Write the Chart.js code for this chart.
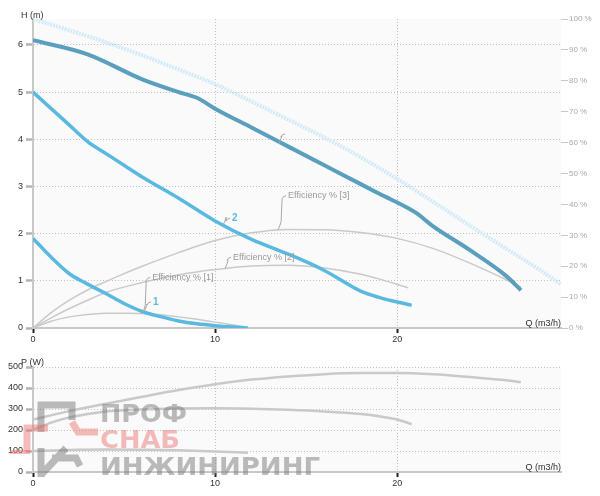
<!DOCTYPE html>
<html>
<head>
<meta charset="utf-8">
<script src="https://cdn.jsdelivr.net/npm/chart.js@4.4.0/dist/chart.umd.min.js"></script>
<style>
  body { margin: 0; background: #fff; width: 600px; height: 496px; overflow: hidden; position: relative; }
  #headBox { position: absolute; left: 0; top: 0; width: 600px; height: 350px; }
  #powerBox { position: absolute; left: 0; top: 350px; width: 600px; height: 146px; }
</style>
</head>
<body>
<div id="headBox"><canvas id="headChart" width="600" height="350"></canvas></div>
<div id="powerBox"><canvas id="powerChart" width="600" height="146"></canvas></div>
<script>
// ---- data ----
// pump curves H (m) vs Q (m3/h)
const qCurve1 = [0, 1, 2, 3, 4, 5, 6, 7, 8, 9, 10, 11, 11.8];
const hCurve1 = [1.9, 1.5, 1.15, 0.93, 0.73, 0.52, 0.35, 0.24, 0.15, 0.09, 0.05, 0.02, 0];
const qCurve2 = [0, 1, 2, 3, 4, 5, 6, 8, 10, 12, 14, 16, 18, 19, 20.8];
const hCurve2 = [5.0, 4.65, 4.3, 3.95, 3.7, 3.45, 3.2, 2.75, 2.27, 1.88, 1.57, 1.22, 0.78, 0.65, 0.48];
const qCurve3 = [0, 3, 6, 8, 9, 10, 12, 14, 16, 18, 19, 21, 22, 24, 26, 26.8];
const hCurve3 = [6.1, 5.8, 5.27, 5.0, 4.88, 4.65, 4.25, 3.85, 3.45, 3.05, 2.85, 2.45, 2.15, 1.65, 1.1, 0.8];
const qCurveMax = [0, 2, 4, 6, 8, 10, 12, 14, 16, 18, 20, 22, 24, 26, 28, 29];
const hCurveMax = [6.55, 6.31, 6.06, 5.78, 5.48, 5.17, 4.8, 4.42, 4.04, 3.62, 3.16, 2.67, 2.17, 1.68, 1.19, 0.92];

// efficiency % (right axis)
const qEff1 = [0, 1, 2, 3, 4, 5, 6, 7, 8, 9, 10, 11, 11.6];
const eff1 = [0, 2.2, 3.6, 4.4, 4.75, 4.8, 4.7, 4.3, 3.6, 2.8, 1.9, 1.0, 0.4];
const qEff2 = [0, 1, 2, 3, 4, 6, 8, 10, 12, 14, 16, 18, 19, 20.6];
const eff2 = [0, 3.3, 6.3, 9, 11.5, 14.7, 17.2, 18.9, 20.1, 20.3, 19.4, 17.4, 15.9, 13.0];
const qEff3 = [0, 1, 2, 3, 4, 5, 6, 8, 10, 12, 14, 16, 18, 20, 22, 24, 26, 26.8];
const eff3 = [0, 5, 9, 12.3, 15, 17.6, 20, 24.4, 28.3, 30.8, 31.9, 31.8, 30.9, 29.0, 25.7, 21.0, 15.6, 13.2];

// power P (W)
const qPow1 = [0, 2, 4, 6, 8, 10, 11.8];
const pow1 = [100, 105, 107, 106, 103, 98, 92];
const qPow2 = [0, 1, 2, 3, 4, 6, 8, 10, 12, 14, 16, 18, 19, 20, 20.8];
const pow2 = [200, 235, 260, 276, 288, 298, 302, 303, 301, 296, 288, 276, 266, 250, 228];
const qPow3 = [0, 2, 4, 6, 8, 10, 12, 14, 16, 18, 20, 22, 24, 26, 26.8];
const pow3 = [250, 290, 325, 358, 390, 418, 440, 455, 466, 471, 471, 465, 452, 437, 428];

// tick labels
const qTicks = [0, 10, 20];
const hTicks = [0, 1, 2, 3, 4, 5, 6];
const effTicks = [0, 10, 20, 30, 40, 50, 60, 70, 80, 90, 100];
const powTicks = [0, 100, 200, 300, 400, 500];

const FONT = '"Liberation Sans", Arial, sans-serif';
const BLUE = '#5bb9e1';
const TEAL = '#5a9fbd';
const GREY = '#c9c9c9';

function pts(xs, ys) {
    return xs.map((x, i) => ({ x: x, y: ys[i] }));
}

function curve(xs, ys, color, width, axis, extra) {
    return Object.assign({
        data: pts(xs, ys), borderColor: color, borderWidth: width,
        pointRadius: 0, fill: false, cubicInterpolationMode: 'monotone', yAxisID: axis
    }, extra || {});
}

function hideZero(c) {
    return c.tick && c.tick.value === 0 ? 'rgba(0,0,0,0)' : '#c2c2c2';
}

function qScale(height) {
    return {
        type: 'linear', min: 0, max: 29,
        afterBuildTicks: s => { s.ticks = qTicks.map(v => ({ value: v })); },
        afterFit: s => { s.height = height; },
        ticks: { font: { family: FONT, size: 9 }, color: '#333', padding: 1, maxRotation: 0 },
        grid: { color: hideZero, lineWidth: 1, tickLength: 5, tickColor: '#222', tickWidth: 2 },
        border: { color: '#c8c8c8', width: 2, dash: [1, 2] }
    };
}

function leftScale(max, ticks) {
    return {
        type: 'linear', position: 'left', min: 0, max: max,
        afterBuildTicks: s => { s.ticks = ticks.map(v => ({ value: v })); },
        afterFit: s => { s.width = 33; },
        ticks: { font: { family: FONT, size: 9 }, color: '#333', padding: 3 },
        grid: { color: hideZero, lineWidth: 1, tickLength: 7, tickColor: '#b4b4b4', tickWidth: 2.5 },
        border: { color: '#c8c8c8', width: 2, dash: [1, 2] }
    };
}

const plotBg = {
    id: 'plotBg',
    beforeDraw(chart) {
        const a = chart.chartArea, ctx = chart.ctx;
        ctx.save();
        ctx.fillStyle = '#fafafa';
        ctx.fillRect(a.left, a.top, a.right - a.left, a.bottom - a.top);
        ctx.restore();
    }
};

function text(ctx, str, x, y, color, size, align, weight) {
    ctx.font = (weight || 'normal') + ' ' + size + 'px ' + FONT;
    ctx.fillStyle = color;
    ctx.textAlign = align || 'left';
    ctx.textBaseline = 'middle';
    ctx.fillText(str, x, y);
}

// leader line from a point on a curve up to a label
function leader(chart, axis, q, v, lx, ly, label, color, size, weight) {
    const ctx = chart.ctx;
    const ax = chart.scales.x.getPixelForValue(q);
    const ay = chart.scales[axis].getPixelForValue(v);
    ctx.save();
    ctx.strokeStyle = '#a8a8a8';
    ctx.lineWidth = 1;
    ctx.beginPath();
    ctx.moveTo(ax, ay);
    ctx.quadraticCurveTo(ax + 2, ay - 4, ax + 3, ay - 8);
    ctx.lineTo(ax + lx - 4, ay + ly + 3);
    ctx.quadraticCurveTo(ax + lx - 3, ay + ly, ax + lx, ay + ly);
    ctx.stroke();
    if (label) text(ctx, label, ax + lx + 2, ay + ly, color, size, 'left', weight);
    ctx.restore();
}

const headLabels = {
    id: 'headLabels',
    afterDatasetsDraw(chart) {
        const ctx = chart.ctx;
        const a = chart.chartArea;
        ctx.save();
        text(ctx, 'H (m)', 21, 16, '#333', 9);
        text(ctx, 'Q (m3/h)', a.right, a.bottom - 4, '#333', 9, 'right');
        ctx.restore();
        leader(chart, 'y2', 6.0, 4.7, 8, -36, 'Efficiency % [1]', '#9a9a9a', 9);
        leader(chart, 'y', 6.1, 0.34, 7, -10, '1', BLUE, 10, 'bold');
        leader(chart, 'y2', 10.55, 19.3, 6, -11, 'Efficiency % [2]', '#9a9a9a', 9);
        leader(chart, 'y', 10.44, 2.18, 7, -7, '2', BLUE, 10, 'bold');
        leader(chart, 'y2', 13.46, 31.8, 8, -34, 'Efficiency % [3]', '#9a9a9a', 9);
        leader(chart, 'y', 13.5, 3.9, 6, -10, '', BLUE, 10, 'bold');
    }
};

const powerLabels = {
    id: 'powerLabels',
    afterDraw(chart) {
        const ctx = chart.ctx;
        const a = chart.chartArea;
        ctx.save();
        text(ctx, 'P (W)', 21, 13, '#333', 9);
        text(ctx, 'Q (m3/h)', a.right, a.bottom - 4, '#333', 9, 'right');

        // watermark logo
        ctx.lineCap = 'butt';
        ctx.lineWidth = 7;
        ctx.strokeStyle = 'rgba(120,120,120,0.5)';
        ctx.beginPath();
        ctx.moveTo(41, 82); ctx.lineTo(41, 55); ctx.lineTo(72, 55); ctx.lineTo(72, 70);
        ctx.moveTo(41, 98); ctx.lineTo(41, 127);
        ctx.moveTo(41, 125); ctx.lineTo(66, 98);
        ctx.moveTo(52, 108); ctx.lineTo(76, 108); ctx.lineTo(80, 116);
        ctx.stroke();
        ctx.strokeStyle = 'rgba(235,120,120,0.5)';
        ctx.beginPath();
        ctx.moveTo(27, 102); ctx.lineTo(27, 78); ctx.lineTo(48, 78);
        ctx.moveTo(72, 72); ctx.lineTo(78, 82); ctx.lineTo(98, 82);
        ctx.stroke();
        ctx.lineWidth = 4;
        ctx.beginPath();
        ctx.moveTo(10, 102); ctx.lineTo(30, 102);
        ctx.stroke();

        ctx.font = 'bold 25px "DejaVu Sans", sans-serif';
        ctx.textBaseline = 'alphabetic';
        ctx.textAlign = 'left';
        const words = [
            ['ПРОФ', 72, 87, 'rgba(120,120,120,0.5)'],
            ['СНАБ', 98, 80, 'rgba(235,120,120,0.5)'],
            ['ИНЖИНИРИНГ', 125, 220, 'rgba(120,120,120,0.5)']
        ];
        words.forEach(w => {
            const m = ctx.measureText(w[0]).width;
            ctx.save();
            ctx.translate(100, w[1]);
            ctx.scale(w[2] / m, 1);
            ctx.fillStyle = w[3];
            ctx.fillText(w[0], 0, 0);
            ctx.restore();
        });
        ctx.restore();
    }
};

function initCharts() {
    const headCtx = document.getElementById('headChart').getContext('2d');
    new Chart(headCtx, {
        type: 'line',
        data: {
            datasets: [
                curve(qCurve1, hCurve1, BLUE, 3.5, 'y'),
                curve(qCurve2, hCurve2, BLUE, 3.5, 'y'),
                curve(qCurve3, hCurve3, TEAL, 4, 'y'),
                curve(qCurveMax, hCurveMax, '#d3eaf8', 4, 'y', { borderDash: [2, 1] }),
                curve(qEff1, eff1, GREY, 1.5, 'y2'),
                curve(qEff2, eff2, GREY, 1.5, 'y2'),
                curve(qEff3, eff3, GREY, 1.5, 'y2')
            ]
        },
        options: {
            responsive: false, animation: false,
            layout: { autoPadding: false, padding: { top: 19, left: 0, right: 0, bottom: 0 } },
            plugins: { legend: { display: false }, tooltip: { enabled: false } },
            scales: {
                x: qScale(22),
                y: leftScale(6.55, hTicks),
                y2: {
                    type: 'linear', position: 'right', min: 0, max: 100,
                    afterBuildTicks: s => { s.ticks = effTicks.map(v => ({ value: v })); },
                    afterFit: s => { s.width = 39; },
                    ticks: { callback: v => v + ' %', font: { family: FONT, size: 8 }, color: '#a8a8a8', padding: 1 },
                    grid: { drawOnChartArea: false, tickLength: 7, tickColor: '#c8c8c8', tickWidth: 1 },
                    border: { display: false }
                }
            }
        },
        plugins: [plotBg, headLabels]
    });

    const powerCtx = document.getElementById('powerChart').getContext('2d');
    new Chart(powerCtx, {
        type: 'line',
        data: {
            datasets: [
                curve(qPow1, pow1, GREY, 2.5, 'y'),
                curve(qPow2, pow2, GREY, 2.5, 'y'),
                curve(qPow3, pow3, GREY, 2.5, 'y')
            ]
        },
        options: {
            responsive: false, animation: false,
            layout: { autoPadding: false, padding: { top: 17, left: 0, right: 39, bottom: 0 } },
            plugins: { legend: { display: false }, tooltip: { enabled: false } },
            scales: {
                x: qScale(24),
                y: leftScale(500, powTicks)
            }
        },
        plugins: [plotBg, powerLabels]
    });
}

window.onload = initCharts;
</script>
</body>
</html>
